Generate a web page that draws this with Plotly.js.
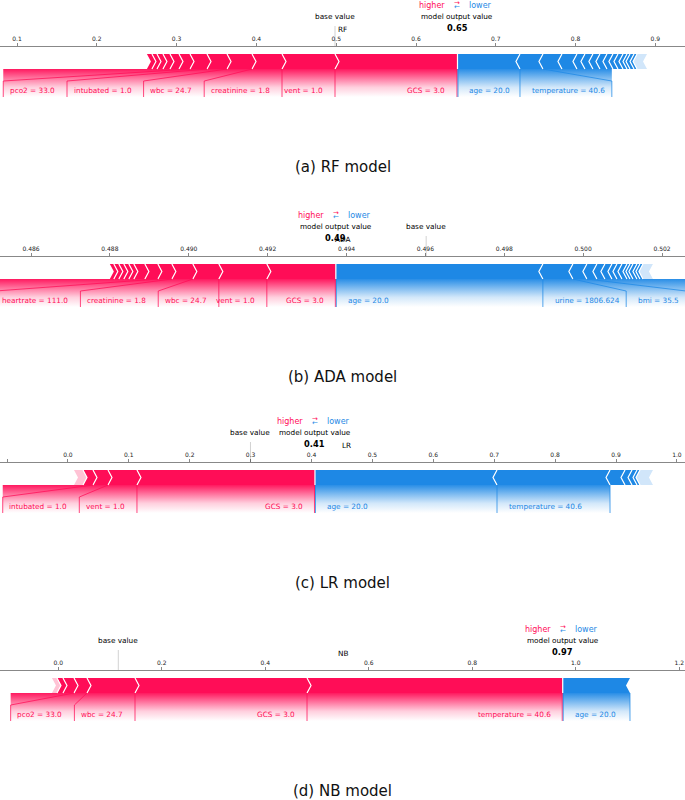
<!DOCTYPE html>
<html><head><meta charset="utf-8">
<script src="https://cdn.plot.ly/plotly-3.0.1.min.js"></script>
<style>html,body{margin:0;padding:0;background:#fff}#chart{width:685px;height:800px}</style>
</head><body><div id="chart"></div>
<script>
// ---------------- data ----------------
const panelNames = ['RF', 'ADA', 'LR', 'NB'];
const panelTitles = ['(a) RF model', '(b) ADA model', '(c) LR model', '(d) NB model'];
const outputValues = [0.652, 0.49373, 0.4057, 0.9747];
const baseValues = [0.4985, 0.49602, 0.2998, 0.1159];

// RF model
const rfPosNames = ['GCS = 3.0', 'vent = 1.0', 'creatinine = 1.8', 'wbc = 24.7', 'intubated = 1.0', 'pco2 = 33.0', '', '', '', '', '', ''];
const rfPosValues = [0.1535, 0.0664, 0.0376, 0.0313, 0.0251, 0.0213, 0.0138, 0.0113, 0.0088, 0.0075, 0.0063, 0.0063];
const rfPosRest = 0;
const rfNegNames = ['age = 20.0', 'temperature = 40.6', '', '', '', '', '', '', '', '', '', '', '', '', ''];
const rfNegValues = [0.0783, 0.0288, 0.0238, 0.0188, 0.0100, 0.0100, 0.0088, 0.0088, 0.0075, 0.0063, 0.0063, 0.0050, 0.0038, 0.0050, 0.0038];
const rfNegRest = 0.0125;

// ADA model
const adaPosNames = ['GCS = 3.0', 'vent = 1.0', 'wbc = 24.7', 'creatinine = 1.8', 'heartrate = 111.0', '', '', '', '', '', '', ''];
const adaPosValues = [0.00175, 0.001217, 0.000659, 0.000532, 0.000355, 0.00033, 0.000279, 0.000127, 0.000127, 0.000127, 0.000127, 0.000101];
const adaPosRest = 0;
const adaNegNames = ['age = 20.0', 'urine = 1806.624', 'bmi = 35.5', '', '', '', '', '', '', '', '', '', '', ''];
const adaNegValues = [0.005249, 0.000761, 0.000355, 0.000254, 0.000203, 0.000178, 0.000127, 0.000127, 0.000127, 0.000076, 0.000076, 0.000101, 0.000076, 0.000076];
const adaNegRest = 0.000254;

// LR model
const lrPosNames = ['GCS = 3.0', 'vent = 1.0', 'intubated = 1.0', ''];
const lrPosValues = [0.2923, 0.0476, 0.0246, 0.0164];
const lrPosRest = 0.0148;
const lrNegNames = ['age = 20.0', 'temperature = 40.6', '', '', '', ''];
const lrNegValues = [0.2989, 0.1856, 0.0246, 0.0115, 0.0082, 0.0049];
const lrNegRest = 0.0213;

// NB model
const nbPosNames = ['temperature = 40.6', 'GCS = 3.0', 'wbc = 24.7', 'pco2 = 33.0', '', ''];
const nbPosValues = [0.4941, 0.3324, 0.0928, 0.0251, 0.0213, 0.0116];
const nbPosRest = 0.0097;
const nbNegNames = ['age = 20.0'];
const nbNegValues = [0.1300];
const nbNegRest = 0;

// axis ticks
const tickStarts = [0.1, 0.486, -0.1, 0.0];
const tickSteps = [0.1, 0.002, 0.1, 0.2];
const tickFormats = ['.1f', '.3f', '.1f', '.1f'];

// ---------------- layout settings ----------------
const W = 685, H = 800;
const RED = '#ff0d57', BLUE = '#1e88e5', RED_L = '#ffc3d5', BLUE_L = '#d1e6fa';
const FONT = 'DejaVu Sans';
const axisYs = [46, 256, 462, 670];
const axisRanges = [[0.0787, 0.9371], [0.485214, 0.502583], [-0.1115, 1.0133], [-0.1127, 1.2110]];
const nameOffsets = [0, 0, 4, 0];

const posSets = [[rfPosNames, rfPosValues, rfPosRest], [adaPosNames, adaPosValues, adaPosRest], [lrPosNames, lrPosValues, lrPosRest], [nbPosNames, nbPosValues, nbPosRest]];
const negSets = [[rfNegNames, rfNegValues, rfNegRest], [adaNegNames, adaNegValues, adaNegRest], [lrNegNames, lrNegValues, lrNegRest], [nbNegNames, nbNegValues, nbNegRest]];

const ctx = document.createElement('canvas').getContext('2d');
function textW(s, size) { ctx.font = size + 'px "' + FONT + '"'; return ctx.measureText(s).width; }

const shapes = [], annotations = [], traces = [];
const layout = {
  width: W, height: H, margin: {l: 0, r: 0, t: 0, b: 0},
  paper_bgcolor: '#fff', plot_bgcolor: '#fff', showlegend: false,
  font: {family: FONT, color: '#000'},
  yaxis: {range: [H, 0], visible: false, domain: [0, 1], fixedrange: true}
};

function pathStr(pts, close) {
  return pts.map((p, i) => (i ? 'L' : 'M') + p[0] + ',' + p[1]).join(' ') + (close ? ' Z' : '');
}
function rgba(hex, a) {
  const n = parseInt(hex.slice(1), 16);
  return 'rgba(' + (n >> 16) + ',' + ((n >> 8) & 255) + ',' + (n & 255) + ',' + a + ')';
}

panelNames.forEach((name, k) => {
  const xa = k === 0 ? 'x' : 'x' + (k + 1);
  const range = axisRanges[k];
  const span = range[1] - range[0];
  const toPx = d => (d - range[0]) * W / span;
  const toX = px => range[0] + px * span / W;
  const t = 4 * span / W;
  const ay = axisYs[k];
  const top = ay + 8, bot = ay + 23, mid = (top + bot) / 2;
  const labTop = bot + 12, labBot = ay + 51, textY = ay + 44;
  const out = outputValues[k], base = baseValues[k];
  const LS = 7.3;

  layout['xaxis' + (k === 0 ? '' : k + 1)] = {
    range: range, anchor: 'free', position: 1 - ay / H, side: 'top',
    overlaying: k === 0 ? undefined : 'x',
    showline: true, linecolor: '#888', linewidth: 1,
    ticks: 'outside', ticklen: 3, tickcolor: '#888', tickwidth: 1,
    tick0: tickStarts[k], dtick: tickSteps[k], tickformat: tickFormats[k],
    tickfont: {size: 6, color: '#222', family: FONT},
    showgrid: false, zeroline: false, fixedrange: true
  };

  [[posSets[k], 1, RED, RED_L], [negSets[k], -1, BLUE, BLUE_L]].forEach(([set, sgn, col, colL]) => {
    const [names, vals, rest] = set;
    const segs = vals.map((v, i) => ({v: v, name: names[i], light: false}));
    if (rest > 0) segs.push({v: rest, name: '', light: true});
    let edge = out;
    segs.forEach((s, i) => {
      const inner = edge, outer = edge - sgn * s.v;
      s.inner = inner; s.outer = outer;
      const pts = [[outer, top], [inner, top]];
      if (i > 0) pts.push([inner + sgn * t, mid]);
      pts.push([inner, bot], [outer, bot], [outer + sgn * t, mid]);
      shapes.push({type: 'path', xref: xa, yref: 'y', path: pathStr(pts, true),
        fillcolor: s.light ? colL : col, line: {width: 0}, layer: 'above'});
      edge = outer;
    });
    segs.forEach((s, i) => {
      if (i < segs.length - 1) {
        shapes.push({type: 'path', xref: xa, yref: 'y',
          path: pathStr([[s.outer, top], [s.outer + sgn * t, mid], [s.outer, bot]], false),
          line: {color: '#fff', width: 1.2}, layer: 'above'});
      }
    });
    // labels
    let prev = toPx(out);
    const lines = [];
    segs.forEach(s => {
      if (!s.name) return;
      const bIn = toPx(s.inner), bOut = toPx(s.outer);
      const tw = textW(s.name, LS);
      let boxOut, tx;
      if (sgn > 0) {
        const boxIn = Math.min(bIn, prev);
        const tR = boxIn - 11, tL = tR - tw;
        boxOut = tL < bOut - 3 ? tL - 8 : bOut;
        tx = tR;
      } else {
        const boxIn = Math.max(bIn, prev);
        const tL = boxIn + 11, tR = tL + tw;
        boxOut = tR > bOut + 3 ? tR + 8 : bOut;
        tx = tL;
      }
      annotations.push({xref: xa, yref: 'y', x: toX(tx), y: textY, xanchor: sgn > 0 ? 'right' : 'left',
        yanchor: 'middle', text: s.name, showarrow: false, borderpad: 0,
        font: {size: LS, color: col, family: FONT}});
      if (Math.abs(boxOut - bOut) < 0.5) lines.push([[bOut, bot], [bOut, labBot]]);
      else lines.push([[bOut, bot], [boxOut, labTop], [boxOut, labBot]]);
      prev = boxOut;
    });
    lines.push([[toPx(out) - sgn * 0.5, bot], [toPx(out) - sgn * 0.5, labBot]]);
    // gradient backing under the bar
    const xs = [toPx(out), prev].sort((a, b) => a - b);
    traces.push({type: 'scatter', xaxis: xa, yaxis: 'y', mode: 'lines',
      x: [toX(xs[0]), toX(xs[1]), toX(xs[1]), toX(xs[0]), toX(xs[0])],
      y: [bot, bot, labBot, labBot, bot], line: {width: 0, color: rgba(col, 0)}, fill: 'toself',
      fillgradient: {type: 'vertical', start: labBot, stop: bot,
        colorscale: [[0, rgba(col, 0)], [0.35, rgba(col, 0.2)], [0.7, rgba(col, 0.6)], [1, rgba(col, 0.95)]]},
      hoverinfo: 'skip', showlegend: false});
    lines.forEach(l => shapes.push({type: 'path', xref: xa, yref: 'y',
      path: pathStr(l.map(p => [toX(p[0]), p[1]]), false),
      line: {color: rgba(col, 0.75), width: 1}, layer: 'above'}));
  });
  // white gap at the output value
  shapes.push({type: 'line', xref: xa, yref: 'y', x0: out, x1: out, y0: top, y1: bot, line: {color: '#fff', width: 1.2}, layer: 'above'});
  // base value marker
  shapes.push({type: 'line', xref: xa, yref: 'y', x0: base, x1: base, y0: ay - 20, y1: ay, line: {color: 'rgba(0,0,0,0.18)', width: 1}, layer: 'above'});

  const ann = (x, y, text, opts) => annotations.push(Object.assign({xref: xa, yref: 'y', x: x, y: y, text: text,
    showarrow: false, borderpad: 0, xanchor: 'center', yanchor: 'middle', font: {size: 7.3, color: '#000', family: FONT}}, opts || {}));
  ann(out - 11 * span / W, ay - 41, 'higher', {xanchor: 'right', font: {size: 8, color: RED, family: FONT}});
  ann(out + 11 * span / W, ay - 41, 'lower', {xanchor: 'left', font: {size: 8, color: BLUE, family: FONT}});
  ann(out, ay - 43, '→', {font: {size: 7, color: RED, family: FONT}});
  ann(out, ay - 39.5, '←', {font: {size: 7, color: BLUE, family: FONT}});
  ann(out, ay - 30, 'model output value');
  ann(out, ay - 18, '<b>' + out.toFixed(2) + '</b>', {font: {size: 8.3, color: '#000', family: FONT}});
  ann(base, ay - 30, 'base value');
  annotations.push({xref: 'paper', yref: 'y', x: 0.5 + nameOffsets[k] / W, y: ay - 17, text: name, showarrow: false,
    font: {size: 7.3, color: '#000', family: FONT}, xanchor: 'center', yanchor: 'middle'});
  annotations.push({xref: 'paper', yref: 'y', x: 0.5, y: ay + 121, text: panelTitles[k], showarrow: false,
    font: {size: 15, color: '#111', family: FONT}, xanchor: 'center', yanchor: 'middle'});
});

layout.shapes = shapes;
layout.annotations = annotations;
Plotly.newPlot('chart', traces, layout, {staticPlot: true, displayModeBar: false});
</script></body></html>
